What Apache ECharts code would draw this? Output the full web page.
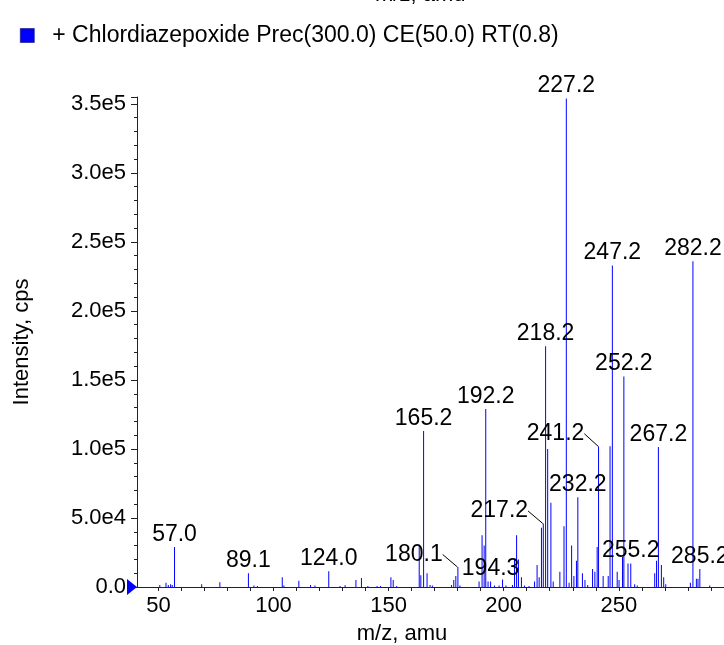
<!DOCTYPE html>
<html><head><meta charset="utf-8">
<script src="https://cdn.jsdelivr.net/npm/echarts@6/dist/echarts.min.js"></script>
<style>html,body{margin:0;padding:0;background:#fff}#c{width:724px;height:645px}</style>
</head><body><div id="c"></div>
<script>
const seriesName = '+ Chlordiazepoxide Prec(300.0) CE(50.0) RT(0.8)';
const mz = [50.6,53.3,54.3,55.3,56.0,57.0,68.8,76.7,89.1,91.5,93.0,103.8,104.5,111.0,116.1,118.0,124.0,
  128.9,131.1,135.8,138.2,141.0,145.0,146.5,151.0,152.0,153.5,163.3,164.0,165.2,166.7,168.0,169.0,
  177.3,178.3,179.2,180.1,181.0,189.3,190.6,191.5,192.2,193.2,194.3,196.0,198.0,199.5,201.0,203.8,
  204.7,205.6,206.4,207.7,209.0,211.0,213.4,214.5,215.4,216.4,217.2,218.2,219.1,220.5,221.5,224.4,
  226.2,227.2,228.4,229.5,230.5,231.6,232.2,234.2,235.3,236.5,238.6,239.6,240.6,241.2,243.2,245.4,
  246.2,247.2,249.3,250.1,251.6,252.2,254.0,255.2,256.9,258.0,265.6,266.4,267.2,268.5,269.5,270.4,
  281.1,282.2,283.7,284.4,285.2,289.5];
const intensity = [1500,3000,1500,2000,1500,29000,2000,3500,10000,1000,800,7000,1000,4500,1500,1000,11500,
  800,1200,5000,6500,800,800,800,7000,5000,800,30000,8500,113000,10000,1500,1000,
  1500,5000,8000,14500,1000,4000,37500,30000,129000,4000,4000,1000,1000,5500,1000,1500,
  20000,37500,20000,7000,1000,800,4000,16000,7000,43000,46000,174500,100000,61000,4000,11000,
  44000,354000,3000,30000,8000,19000,65000,10000,5000,1500,13000,11000,29000,102000,8000,8000,
  102000,233000,11000,5000,22000,152500,17000,17000,2000,1000,10000,19000,101500,16000,7000,2000,
  3000,236000,6000,6000,13000,1000];
const labeledPeaks = [57.0,89.1,124.0,165.2,180.1,192.2,194.3,217.2,218.2,227.2,232.2,241.2,247.2,252.2,255.2,267.2,282.2,285.2];
const xTickLabels = [50,100,150,200,250];
const xMinorTicks = [50,60,70,80,90,100,110,120,130,140,150,160,170,180,190,200,210,220,230,240,250,260,270,280,290];
const yTickLabels = ['0.0','5.0e4','1.0e5','1.5e5','2.0e5','2.5e5','3.0e5','3.5e5'];

const FONT = '"Liberation Sans", Arial, Helvetica, sans-serif';
const leaderDx = {180.1: -44, 217.2: -44, 241.2: -43};

const data = mz.map((m, i) => {
  const item = { value: [m, intensity[i]] };
  if (labeledPeaks.some(p => Math.abs(p - m) < 0.01)) {
    item.label = { show: true, formatter: m.toFixed(1) };
    if (leaderDx[m.toFixed(1)] !== undefined) {
      item.labelLine = { show: true };
    }
  }
  return item;
});

const chart = echarts.init(document.getElementById('c'), null, { renderer: 'canvas' });
chart.setOption({
  animation: false,
  backgroundColor: '#ffffff',
  textStyle: { fontFamily: FONT },
  legend: {
    left: 20, top: 24, padding: 0, icon: 'rect', itemWidth: 14, itemHeight: 14,
    itemStyle: { borderColor: '#10106a', borderWidth: 0.6 },
    textStyle: { fontSize: 23, color: '#000', fontFamily: FONT, padding: [0, 0, 0, 13] },
    data: [seriesName]
  },
  grid: { left: 137, right: 0, top: 97, bottom: 58 },
  xAxis: {
    type: 'value', min: 40.7, max: 295.7,
    axisLine: { show: true, lineStyle: { color: '#222', width: 1 } },
    axisTick: { show: true, customValues: xMinorTicks, length: 4, lineStyle: { color: '#222' } },
    axisLabel: { customValues: xTickLabels, fontSize: 22, color: '#000', margin: 8, fontFamily: FONT },
    splitLine: { show: false }
  },
  yAxis: {
    type: 'value', min: 0, max: 355000, interval: 50000,
    axisLine: { show: true, lineStyle: { color: '#222', width: 1 } },
    axisTick: { show: true, length: 6, lineStyle: { color: '#222' } },
    minorTick: { show: true, splitNumber: 5, length: 3, lineStyle: { color: '#222' } },
    axisLabel: { fontSize: 22, color: '#000', margin: 11, fontFamily: FONT,
      formatter: (v) => yTickLabels[Math.round(v / 50000)] || '' },
    splitLine: { show: false }
  },
  graphic: [
    { type: 'text', left: 375, top: -16, style: { text: 'm/z, amu', fill: '#000', font: '22px ' + FONT } },
    { type: 'text', x: 402, y: 634, style: { text: 'm/z, amu', fill: '#000', font: '22px ' + FONT, textAlign: 'center', textVerticalAlign: 'middle' } },
    { type: 'text', x: 22, y: 342, rotation: Math.PI / 2, style: { text: 'Intensity, cps', fill: '#000', font: '22px ' + FONT, textAlign: 'center', textVerticalAlign: 'middle' } }
  ],
  series: [{
    name: seriesName,
    type: 'bar',
    barWidth: 1,
    itemStyle: { color: '#0000ff' },
    label: { show: false, position: 'top', distance: 1, fontSize: 23, color: '#000', fontFamily: FONT },
    labelLine: { show: false, lineStyle: { color: '#000', width: 1 } },
    labelLayout: function (params) {
      const m = mz[params.dataIndex];
      const dx = leaderDx[m.toFixed(1)];
      if (dx !== undefined) return { dx: dx };
      return {};
    },
    data: data,
    markPoint: {
      silent: true,
      symbol: 'triangle', symbolSize: [16, 10], symbolRotate: -90, symbolOffset: [-5, 0],
      itemStyle: { color: '#0000ff' }, label: { show: false },
      data: [{ coord: [40.7, 0] }]
    }
  }]
});
</script></body></html>
